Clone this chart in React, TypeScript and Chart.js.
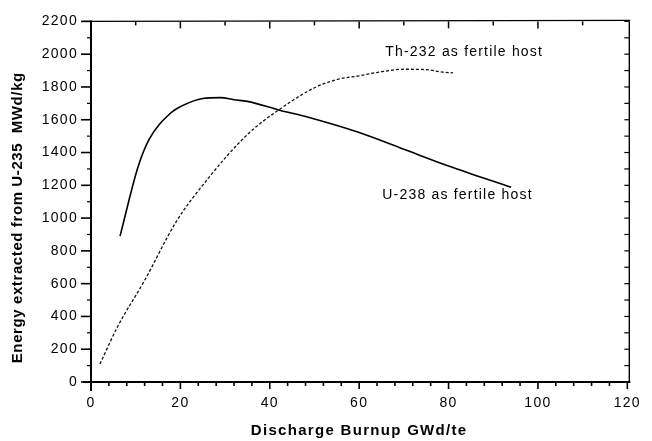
import React, { useEffect, useRef } from 'react';
import { Chart, registerables } from 'chart.js';

Chart.register(...registerables);

// Discharge burnup (GWd/te) and energy extracted (MWd/kg)
const u238X = [6.5, 10.5, 13, 18, 20, 25, 29, 32, 35, 42, 49, 60, 70, 80, 94];
const u238Y = [890, 1310, 1480, 1645, 1680, 1730, 1735, 1722, 1712, 1660, 1612, 1522, 1420, 1318, 1188];

const th232X = [2, 6, 12, 19, 26, 35, 42, 50, 55, 60, 65, 70, 75, 78, 81];
const th232Y = [110, 340, 620, 975, 1235, 1510, 1660, 1795, 1845, 1868, 1893, 1908, 1906, 1893, 1886];

const xTickValues = [0, 20, 40, 60, 80, 100, 120];
const yTickValues = [0, 200, 400, 600, 800, 1000, 1200, 1400, 1600, 1800, 2000, 2200];

const xTitle = 'Discharge Burnup GWd/te';
const yTitle = 'Energy extracted from U-235  MWd/kg';
const thLabel = 'Th-232 as fertile host';
const uLabel = 'U-238 as fertile host';

const FONT = "'Liberation Sans', Arial, Helvetica, sans-serif";

export default function App() {
  const ref = useRef<HTMLCanvasElement>(null);

  useEffect(() => {
    if (!ref.current) return;

    const framePlugin = {
      id: 'frame',
      beforeDraw(chart: any) {
        chart.ctx.letterSpacing = '1.3px';
      },
      afterDraw(chart: any) {
        const { ctx, chartArea: a, scales } = chart;
        const xs = scales.x;
        const ys = scales.y;
        ctx.save();
        ctx.strokeStyle = '#000';
        ctx.fillStyle = '#000';
        const seg = (x1: number, y1: number, x2: number, y2: number, w: number) => {
          ctx.lineWidth = w;
          ctx.beginPath();
          ctx.moveTo(x1, y1);
          ctx.lineTo(x2, y2);
          ctx.stroke();
        };
        // frame
        seg(a.left - 8, a.top, a.right + 3, a.top - 1, 1.4);
        seg(a.right + 2, a.top, a.right + 2, a.bottom, 1.4);
        seg(a.left, a.top - 1, a.left, a.bottom + 9, 2);
        seg(a.left - 8, a.bottom, a.right + 3, a.bottom, 2);
        // left ticks
        for (let v = 0; v <= 2200; v += 100) {
          const y = ys.getPixelForValue(v);
          const major = v % 200 === 0;
          seg(a.left - (major ? 10 : 4), y, a.left, y, major ? 1.6 : 1.2);
          seg(a.right + 2, y, a.right - 3, y, 1.2);
        }
        // bottom ticks
        for (let v = 0; v <= 120; v += 4) {
          const x = xs.getPixelForValue(v);
          const major = v % 20 === 0;
          seg(x, a.bottom, x, a.bottom + (major ? 7 : 4), 1.6);
        }
        // top ticks
        for (let v = 10; v < 120; v += 10) {
          const x = xs.getPixelForValue(v);
          const major = v % 20 === 0;
          seg(x, a.top, x, a.top + (major ? 7 : 4), 1.5);
        }
        // curve labels
        ctx.font = `14px ${FONT}`;
        ctx.letterSpacing = '1.2px';
        ctx.textAlign = 'center';
        ctx.textBaseline = 'middle';
        ctx.fillText(thLabel, xs.getPixelForValue(83.5), ys.getPixelForValue(2012));
        ctx.fillText(uLabel, xs.getPixelForValue(82), ys.getPixelForValue(1140));
        // y axis title
        ctx.font = `bold 15px ${FONT}`;
        ctx.letterSpacing = '0.6px';
        ctx.translate(18, (a.top + a.bottom) / 2 + 16);
        ctx.rotate(-Math.PI / 2);
        ctx.fillText(yTitle, 0, 0);
        ctx.restore();
      },
    };

    const chart = new Chart(ref.current, {
      type: 'line',
      data: {
        datasets: [
          {
            label: uLabel,
            data: u238X.map((x, i) => ({ x, y: u238Y[i] })),
            borderColor: '#000',
            borderWidth: 1.6,
            pointRadius: 0,
            fill: false,
            cubicInterpolationMode: 'monotone',
          },
          {
            label: thLabel,
            data: th232X.map((x, i) => ({ x, y: th232Y[i] })),
            borderColor: '#111',
            borderWidth: 1.3,
            borderDash: [3, 2],
            pointRadius: 0,
            fill: false,
            cubicInterpolationMode: 'monotone',
          },
        ],
      },
      options: {
        animation: false,
        responsive: false,
        layout: { padding: { left: 0, top: 14, right: 18, bottom: 0 } },
        plugins: { legend: { display: false }, tooltip: { enabled: false } },
        scales: {
          x: {
            type: 'linear',
            min: 0,
            max: 120,
            afterBuildTicks: (s: any) => {
              s.ticks = xTickValues.map((v) => ({ value: v }));
            },
            afterFit: (s: any) => {
              s.height = 59;
            },
            grid: { display: false, drawTicks: false },
            border: { display: false },
            ticks: {
              color: '#000',
              padding: 13,
              maxRotation: 0,
              font: { family: FONT, size: 14 },
              callback: (v: any) => String(v),
            },
            title: {
              display: true,
              text: xTitle,
              color: '#000',
              font: { family: FONT, size: 15, weight: 'bold' },
              padding: { top: 0, bottom: 1 },
            },
          },
          y: {
            type: 'linear',
            min: 0,
            max: 2200,
            afterBuildTicks: (s: any) => {
              s.ticks = yTickValues.map((v) => ({ value: v }));
            },
            afterFit: (s: any) => {
              s.width = 91;
            },
            grid: { display: false, drawTicks: false },
            border: { display: false },
            ticks: {
              color: '#000',
              padding: 13,
              font: { family: FONT, size: 14 },
              callback: (v: any) => String(v),
            },
            title: { display: false },
          },
        },
      },
      plugins: [framePlugin],
    } as any);

    return () => chart.destroy();
  }, []);

  return (
    <div style={{ position: 'absolute', left: 0, top: 0, width: 652, height: 441, background: '#fff' }}>
      <canvas ref={ref} width={652} height={441} style={{ display: 'block' }} />
    </div>
  );
}
